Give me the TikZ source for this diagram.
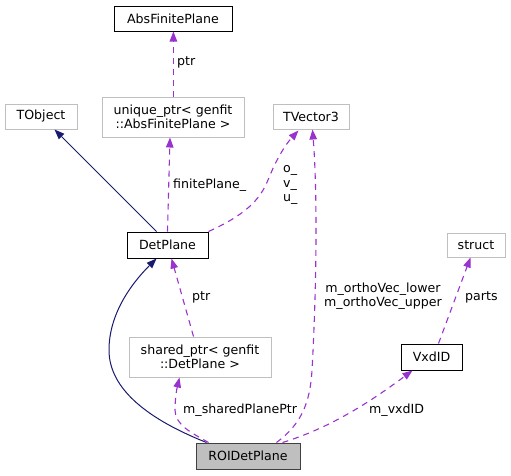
\documentclass[tikz,border=0pt]{standalone}
\usepackage{fontspec}
\setmainfont{DejaVu Sans}
\usetikzlibrary{arrows.meta,calc}
\definecolor{dep}{HTML}{9A32CD}
\definecolor{inh}{HTML}{191970}
\definecolor{gbox}{HTML}{BFBFBF}
\begin{document}
\begin{tikzpicture}[x=1pt,y=-1pt,
  every node/.style={font=\fontsize{12.6}{14.5}\selectfont, inner sep=0pt},
  box/.style={draw, line width=1pt, minimum width=#1, align=center},
  blk/.style={box=#1, draw=black, minimum height=26pt},
  gry/.style={box=#1, draw=gbox, minimum height=25pt},
  gry2/.style={box=#1, draw=gbox, minimum height=40pt},
  deparr/.style={color=dep, line width=1.1pt, dash pattern=on 6pt off 5pt, -{Triangle[length=10pt,width=7.5pt]}},
  inharr/.style={color=inh, line width=1pt, -{Triangle[length=10pt,width=7.5pt]}},
  lbl/.style={anchor=west, align=left, text=black}]
\useasboundingbox (0,0) rectangle (511,475);
% nodes
\node[blk=118pt, minimum height=25pt] (abs) at (173,18.5) {AbsFinitePlane};
\node[gry2=142pt] (uniq) at (173,117) {unique\_ptr< genfit\\::AbsFinitePlane >};
\node[gry=72pt] (tobj) at (41,116.5) {TObject};
\node[gry=76pt] (tvec) at (311,116.5) {TVector3};
\node[blk=81pt] (det) at (167.5,245) {DetPlane};
\node[gry=58pt, minimum height=24pt] (strc) at (476,245) {struct};
\node[gry2=142pt] (shrd) at (200,357) {shared\_ptr< genfit\\::DetPlane >};
\node[blk=61pt] (vxd) at (431.5,357) {VxdID};
\node[box=104pt, draw=black!75, fill=gbox, minimum height=26pt] (roi) at (248,456) {ROIDetPlane};
% edges
\draw[deparr] ($(uniq.north)+(0.4,0)$) -- ($(abs.south)+(0.4,0)$);
\draw[inharr] ($(det.north west)+(30,0)$) -- ($(tobj.south west)+(50,0)$);
\draw[deparr] (det.north) -- ($(uniq.south)+(-3,0)$);
\draw[deparr] (det.north east) .. controls (245,215) and (260,200) .. (268,180)
   .. controls (276,160) and (285,145) .. ($(tvec.south west)+(26,1)$);
\draw[inharr] ($(roi.north west)+(11,0)$) .. controls (150,420) and (109,390) .. (109,350)
   .. controls (109,315) and (130,285) .. ($(det.south west)+(30,0)$);
\draw[deparr] ($(shrd.north west)+(65,0)$) -- ($(det.south west)+(45,0)$);
\draw[deparr] ($(roi.north west)+(13,0)$) .. controls (192,433) and (175,425) .. (175,410)
   .. controls (175,398) and (177,388) .. ($(shrd.south west)+(51,0)$);
\draw[deparr] ($(roi.north west)+(81,0)$) .. controls (300,425) and (310,405) .. (312,370)
   .. controls (316,300) and (318,200) .. ($(tvec.south west)+(40,0)$);
\draw[deparr] ($(roi.north west)+(87,0)$) .. controls (330,428) and (370,402) .. ($(vxd.south west)+(12,0)$);
\draw[deparr] ($(vxd.north west)+(38,0)$) -- ($(strc.south west)+(24,0)$);
% labels
\node[lbl] (l1) at (177,62) {ptr};
\node[lbl] (l2) at (173,185) {finitePlane\_};
\node[lbl] (l3) at (283,185) {o\_\\v\_\\u\_};
\node[lbl] (l4) at (192,297) {ptr};
\node[lbl] (l5) at (183,410) {m\_sharedPlanePtr};
\node[align=center] (l6) at (383,296) {m\_orthoVec\_lower\\m\_orthoVec\_upper};
\node[lbl] (l7) at (369,410) {m\_vxdID};
\node[lbl] (l8) at (465,297) {parts};
\end{tikzpicture}
\end{document}
